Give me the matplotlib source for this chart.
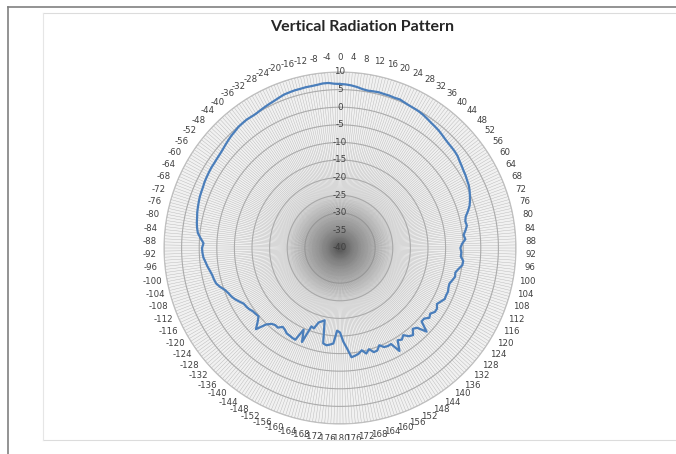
import matplotlib
matplotlib.use("Agg")
import matplotlib.pyplot as plt
import numpy as np
from matplotlib.lines import Line2D

# measured angles, every 2 degrees (0 at top, clockwise)
angles_deg = np.arange(0, 360, 2)

# gain in dB for 0, 2, ..., 178 degrees
gain_right = [6.6, 6.5, 6.3, 6.0, 5.6, 5.4, 5.5, 5.6, 5.5, 5.5,
              5.4, 5.5, 5.2, 5.0, 4.9, 4.8, 4.6, 4.3, 4.0, 3.8,
              3.6, 3.3, 3.0, 2.8, 2.7, 2.6, 2.4, 2.0, 1.7, 1.4,
              1.2, 0.9, 0.7, 0.3, -0.2, -0.7, -1.3, -2.2, -3.2, -3.6,
              -3.4, -4.0, -4.7, -4.3, -5.3, -5.8, -5.5, -5.6, -4.8, -4.9,
              -5.8, -6.5, -6.3, -6.8, -7.3, -7.2, -6.9, -7.0, -6.9, -7.6,
              -8.2, -7.5, -7.5, -8.3, -7.8, -8.8, -8.8, -5.8, -8.5, -9.1,
              -7.7, -8.2, -9.4, -8.6, -9.1, -6.2, -9.1, -9.0, -9.2, -10.2,
              -9.0, -8.9, -10.1, -9.1, -10.3, -9.5, -9.1, -8.8, -11.4, -13.4]

# gain in dB for -180, -178, ..., -2 degrees
gain_left = [-16.0, -16.5, -12.8, -12.4, -12.1, -12.5, -19.0, -18.5, -18.0, -16.0,
             -16.3, -11.2, -14.6, -11.0, -11.1, -11.3, -11.4, -12.0, -12.3, -11.3,
             -11.4, -11.0, -9.8, -6.8, -8.5, -9.8, -9.6, -9.4, -8.9, -8.6,
             -8.4, -7.6, -6.8, -6.2, -5.8, -5.2, -4.2, -3.4, -3.1, -2.9,
             -2.5, -2.0, -1.6, -1.1, -0.9, -0.8, -1.2, -0.3, 0.6, 1.0,
             1.3, 1.5, 1.8, 2.0, 2.2, 2.4, 2.5, 2.6, 2.8, 2.9,
             3.0, 3.1, 3.1, 3.2, 3.3, 3.5, 3.8, 4.1, 4.4, 4.6,
             4.9, 5.0, 5.1, 5.0, 5.0, 5.2, 5.4, 5.6, 5.8, 6.1,
             6.4, 6.5, 6.6, 6.6, 6.7, 6.7, 6.8, 7.0, 7.0, 6.7]

gain = np.array(gain_right + gain_left)

ring_values = [10, 5, 0, -5, -10, -15, -20, -25, -30, -35, -40]
label_angles = np.arange(0, 360, 4)
label_text = [str(a) if a <= 176 else str(a - 360) for a in label_angles]

fig = plt.figure(figsize=(6.76, 4.54), dpi=100)
fig.patch.set_facecolor("white")

# frame lines like the pasted chart
fig.add_artist(Line2D([8/676, 1], [1 - 7/454, 1 - 7/454], color="#808080", lw=1.2))
fig.add_artist(Line2D([8/676, 8/676], [0, 1 - 7/454], color="#808080", lw=1.2))
fig.add_artist(Line2D([43/676, 1], [1 - 13/454, 1 - 13/454], color="#dcdcdc", lw=0.8))
fig.add_artist(Line2D([43/676, 1], [1 - 440/454, 1 - 440/454], color="#dcdcdc", lw=0.8))
fig.add_artist(Line2D([43/676, 43/676], [1 - 440/454, 1 - 13/454], color="#e6e6e6", lw=0.8))

cx, cy, R = 340, 248, 176
ax = fig.add_axes([(cx - R) / 676, (454 - cy - R) / 454, 2 * R / 676, 2 * R / 454],
                  projection="polar")
ax.set_theta_zero_location("N")
ax.set_theta_direction(-1)
ax.set_ylim(-40, 10)
ax.set_facecolor("#f1f1f1")
ax.grid(False)
ax.spines["polar"].set_color("#c0c0c0")
ax.spines["polar"].set_linewidth(0.8)

th = np.linspace(0, 2 * np.pi, 400)

# dense spokes, one per degree
spokes = np.deg2rad(np.arange(0, 360, 1))
for t in spokes:
    ax.plot([t, t], [-40, 10], color="#6a6a6a", lw=0.3, alpha=0.45, zorder=1)

# rings
for v in ring_values[:-1]:
    ax.plot(th, np.full_like(th, v), color="#ababab", lw=0.8, zorder=2)

# dark haze where the spokes crowd together in the middle
for rr in np.linspace(-38, -25, 14):
    ax.fill(th, np.full_like(th, rr), color="#5a5a5a", alpha=0.045, lw=0, zorder=3)

ax.set_yticks([])
ax.set_xticks(np.deg2rad(label_angles))
ax.set_xticklabels(label_text, fontsize=6.2, color="#404040")
ax.tick_params(axis="x", pad=0)

for v in ring_values:
    ax.text(0, v, str(v), ha="center", va="center", fontsize=6.3,
            color="#404040", zorder=4)

theta = np.deg2rad(np.append(angles_deg, angles_deg[0]))
ax.plot(theta, np.append(gain, gain[0]), color="#4a7ebb", lw=1.6, zorder=5)

fig.text(0.535, 0.94, "Vertical Radiation Pattern", ha="center", va="center",
         fontsize=11.5, fontweight="bold", color="#262626", family="Lato")

fig.savefig("out.png", dpi=100)
